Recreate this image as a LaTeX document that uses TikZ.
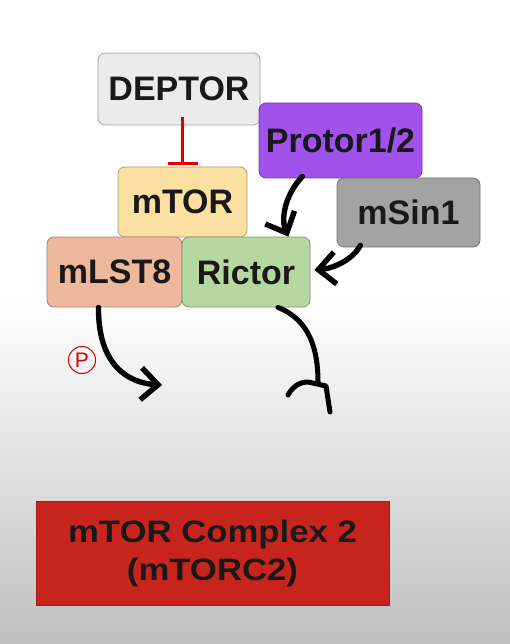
\documentclass[tikz,border=0pt]{standalone}
\usepackage{fontspec}
\setmainfont{Liberation Sans}
\usetikzlibrary{arrows.meta}

\definecolor{deptorgrey}{HTML}{EBEBEB}
\definecolor{protorpurple}{HTML}{A252EC}
\definecolor{msingrey}{HTML}{A3A3A3}
\definecolor{mtoryellow}{HTML}{FCE0A2}
\definecolor{mlstsalmon}{HTML}{EDB89C}
\definecolor{rictorgreen}{HTML}{B6D7A0}
\definecolor{complexred}{HTML}{C8241E}

\tikzset{
  protein/.style={draw=#1!70!black, fill=#1, rounded corners=7pt, line width=0.8pt,
    font=\fontsize{34}{40}\selectfont\bfseries, text=black!90, inner sep=0pt},
  bind/.style={line width=5.4pt, black, line cap=round,
    -{Straight Barb[length=17pt, width=32pt, line width=5.4pt]}},
  socket/.style={line width=5pt, black, line cap=round, line join=round}
}

\begin{document}
\begin{tikzpicture}[x=1pt, y=-1pt]
  % Background
  \useasboundingbox (0,0) rectangle (510,644);
  \fill[white] (0,0) rectangle (510,300);
  \shade[top color=white, bottom color=black!25] (0,299) rectangle (510,644);

  % Proteins
  \node[protein=deptorgrey, minimum width=162pt, minimum height=72pt] (deptor) at (179, 89) {DEPTOR};
  \node[protein=protorpurple, minimum width=163pt, minimum height=75pt] (protor) at (340.5, 140.5) {Protor1/2};
  \node[protein=msingrey, minimum width=143pt, minimum height=69pt] (msin) at (408.5, 212.5) {mSin1};
  \node[protein=mtoryellow, minimum width=129pt, minimum height=70pt] (mtor) at (182.5, 202) {mTOR};
  \node[protein=mlstsalmon, minimum width=135pt, minimum height=70pt] (mlst) at (114.5, 272) {mLST8};
  \node[protein=rictorgreen, minimum width=128pt, minimum height=70pt] (rictor) at (246, 272) {Rictor};

  % Complex
  \node[draw=complexred!80!black, fill=complexred, minimum width=353pt, minimum height=104pt,
        align=center, font=\fontsize{31}{38}\selectfont\bfseries, text=black!90] (mtorc) at (212.5, 553)
    {\scalebox{1.12}[1]{mTOR Complex 2}\\\scalebox{1.12}[1]{(mTORC2)}};

  % DEPTOR inhibits mTOR
  \draw[red!85!black, line width=2.8pt, -{Bar[width=30pt, line width=2.8pt]}]
        ([yshift=8pt]deptor.south -| mtor.north) -- ([yshift=2pt]mtor.north);

  % Binding arrows
  \draw[bind] ([xshift=-120pt, yshift=2pt]protor.south east) .. controls (284, 196) and (281, 220) .. ([xshift=-22pt]rictor.north east);
  \draw[bind] ([xshift=-120pt, yshift=2pt]msin.south east) .. controls (354, 258) and (336, 268) .. ([xshift=4pt, yshift=2pt]rictor.east);

  % Phosphorylation
  \coordinate (pout) at (162, 385);
  \draw[bind] ([xshift=-16pt]mlst.south) .. controls (98, 365) and (128, 383) .. (pout);
  \node[draw=red!85!black, circle, line width=1pt, minimum size=27pt, inner sep=0pt,
        text=red!85!black, font=\fontsize{21}{21}\selectfont] (phos) at (82, 360) {P};

  % Rictor receptor
  \coordinate (rend) at (330, 412);
  \draw[socket] ([xshift=32pt]rictor.south) .. controls (310, 320) and (318, 350) .. (318, 382);
  \draw[socket] (288, 395) .. controls (293, 386) and (300, 382) .. (308, 382)
                -- (326, 386) -- (rend);
\end{tikzpicture}
\end{document}
